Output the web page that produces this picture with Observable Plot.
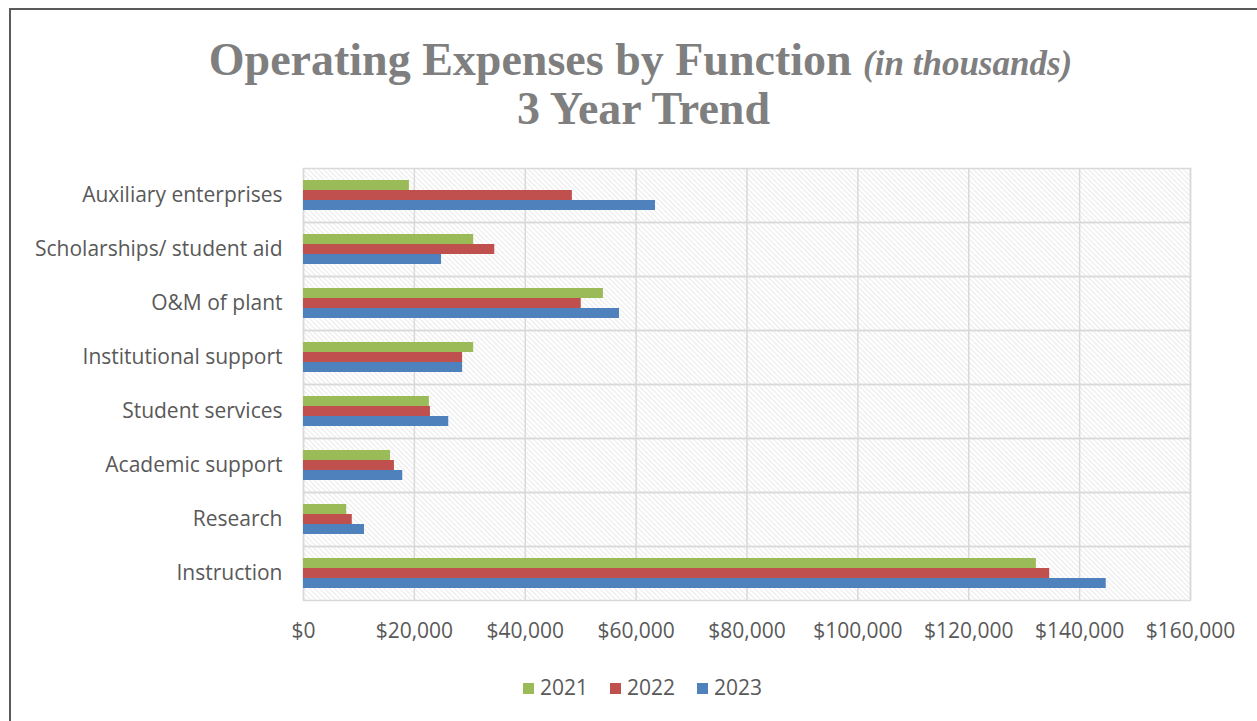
<!DOCTYPE html>
<html>
<head>
<meta charset="utf-8">
<script src="https://cdn.jsdelivr.net/npm/d3@7"></script>
<script src="https://cdn.jsdelivr.net/npm/@observablehq/plot@0.6"></script>
<style>
  html, body { margin: 0; padding: 0; background: #fff; }
  body { width: 1257px; height: 721px; position: relative; overflow: hidden; font-family: "Open Sans", Lato, sans-serif; }
  #border { position: absolute; left: 9px; top: 8px; width: 1400px; height: 900px; border-left: 2px solid #5a5a5a; border-top: 2px solid #5a5a5a; }
  .t1 { position: absolute; left: 12px; width: 1257px; text-align: center; top: 35px; font-family: "Liberation Serif", serif; font-weight: bold; font-size: 46px; line-height: 50px; color: #7f7f7f; white-space: nowrap; }
  .t1 i { font-size: 35px; }
  .t2 { position: absolute; left: 15px; width: 1257px; text-align: center; top: 84px; font-family: "Liberation Serif", serif; font-weight: bold; font-size: 46px; line-height: 50px; color: #7f7f7f; }
  #chart { position: absolute; left: 0; top: 150px; }
  #legend { position: absolute; left: 14px; width: 1257px; top: 673px; text-align: center; font-size: 21px; line-height: 28px; color: #595959; }
  #legend span.item { display: inline-block; margin: 0 11px; }
  #legend span.sw { display: inline-block; width: 11px; height: 11px; margin-right: 6px; vertical-align: 1px; }
</style>
</head>
<body>
<div id="border"></div>
<div class="t1">Operating Expenses by Function <i>(in thousands)</i></div>
<div class="t2">3 Year Trend</div>
<div id="chart"></div>
<div id="legend"></div>
<script>
// Categories, top to bottom as drawn
const categories = [
  "Auxiliary enterprises",
  "Scholarships/ student aid",
  "O&M of plant",
  "Institutional support",
  "Student services",
  "Academic support",
  "Research",
  "Instruction"
];
const years = ["2021", "2022", "2023"];
const values2021 = [19100, 30700, 54100, 30700, 22700, 15700, 7800, 132200];
const values2022 = [48500, 34500, 50100, 28700, 22900, 16400, 8800, 134600];
const values2023 = [63500, 24900, 57000, 28700, 26200, 17900, 11000, 144800];
const xTicks = [0, 20000, 40000, 60000, 80000, 100000, 120000, 140000, 160000];
const colors = ["#9bbb59", "#c0504d", "#4f81bd"];

const series = [values2021, values2022, values2023];
const data = categories.flatMap((c, i) => years.map((y, j) => ({category: c, year: y, value: series[j][i]})));

const plot = Plot.plot({
  width: 1257,
  height: 500,
  marginTop: 17,
  marginBottom: 50,
  marginLeft: 303,
  marginRight: 67,
  style: {fontFamily: "'Open Sans', Lato, sans-serif", fontSize: "21px", color: "#595959", background: "transparent"},
  x: {domain: [0, 160000], ticks: xTicks, tickFormat: d3.format("$,"), tickSize: 0, tickPadding: 23, label: null},
  y: {domain: years, axis: null, paddingInner: 0, paddingOuter: 1.2},
  fy: {domain: categories, padding: 0, label: null, axis: "left", tickSize: 0, tickPadding: 21},
  color: {domain: years, range: colors},
  marks: [
    Plot.frame({fill: "#fefefe"}),
    Plot.gridX(xTicks, {stroke: "#d9d9d9", strokeOpacity: 1, strokeWidth: 1.5}),
    Plot.frame({stroke: "#d9d9d9", strokeWidth: 1.5}),
    Plot.barX(data, {x: "value", y: "year", fy: "category", fill: "year"})
  ]
});

// hatch pattern for plot background
const svg = d3.select(plot.tagName === "svg" ? plot : plot.querySelector("svg"));
const defs = svg.insert("defs", ":first-child");
const pat = defs.append("pattern").attr("id", "hatch").attr("patternUnits", "userSpaceOnUse").attr("width", 5).attr("height", 5);
pat.append("rect").attr("width", 5).attr("height", 5).attr("fill", "#ffffff");
pat.append("path").attr("d", "M0,0L5,5M-1,4L1,6M4,-1L6,1").attr("stroke", "#dedede").attr("stroke-width", 1);
svg.selectAll('[fill="#fefefe"]').attr("fill", "url(#hatch)");

document.getElementById("chart").appendChild(plot);

const legend = d3.select("#legend");
years.forEach((y, i) => {
  const it = legend.append("span").attr("class", "item");
  it.append("span").attr("class", "sw").style("background", colors[i]);
  it.append("span").text(y);
});
</script>
</body>
</html>
